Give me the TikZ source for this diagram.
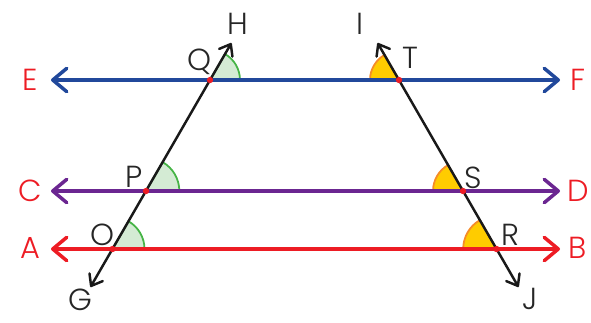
\documentclass[tikz,border=0pt]{standalone}
\usepackage{fontspec}
\setmainfont{Poppins}[UprightFont=* Light]
\usetikzlibrary{arrows.meta}
\definecolor{lineblue}{RGB}{33,72,155}
\definecolor{linepurple}{RGB}{107,38,145}
\definecolor{linered}{RGB}{237,28,36}
\definecolor{secgreen}{RGB}{70,180,70}
\definecolor{secgreenfill}{RGB}{212,235,212}
\definecolor{secorange}{RGB}{245,140,40}
\definecolor{secyellow}{RGB}{255,204,0}

\begin{document}
\begin{tikzpicture}[
    x=0.03cm, y=0.03cm, line cap=round,
    par/.style={line width=3pt,
      {Straight Barb[length=4.2mm,width=7mm,round]}-{Straight Barb[length=4.2mm,width=7mm,round]}},
    trans/.style={line width=2.1pt, black!90,
      {Straight Barb[length=3mm,width=4.6mm,round]}-{Straight Barb[length=3mm,width=4.6mm,round]}},
    gsec/.style={fill=secgreenfill, draw=secgreen, line width=1.5pt},
    ysec/.style={fill=secyellow, draw=secorange, line width=1.5pt},
    dot/.style={circle, fill=linered, inner sep=0pt, minimum size=1.9mm},
    endlbl/.style={font=\fontsize{26}{31}\selectfont, text=linered, inner sep=0pt},
    ptlbl/.style={font=\fontsize{26}{31}\selectfont, text=black!85, inner sep=0pt},
]
\useasboundingbox (0,0) rectangle (591,322);
% end points of the three parallels
\coordinate (E) at (51,242);  \coordinate (F) at (560,242);
\coordinate (C) at (51,131);  \coordinate (D) at (560,131);
\coordinate (A) at (51,73);   \coordinate (B) at (560,73);
% the two transversals
\coordinate (G) at (90.5,35);   \coordinate (H) at (231.4,279);
\coordinate (J) at (518.5,35);  \coordinate (I) at (377.6,279);
\coordinate (Q) at (210,242);   \coordinate (T) at (399,242);
\coordinate (P) at (146,131);   \coordinate (S) at (463,131);
\coordinate (O) at (112.5,73);  \coordinate (R) at (496.5,73);
% marked angles
\filldraw[gsec] (Q) -- ++(0:0.9cm) arc[start angle=0, end angle=60, radius=0.9cm] -- cycle;
\filldraw[gsec] (P) -- ++(0:1cm) arc[start angle=0, end angle=60, radius=1cm] -- cycle;
\filldraw[gsec] (O) -- ++(0:0.96cm) arc[start angle=0, end angle=60, radius=0.96cm] -- cycle;
\filldraw[ysec] (T) -- ++(120:0.87cm) arc[start angle=120, end angle=180, radius=0.87cm] -- cycle;
\filldraw[ysec] (S) -- ++(120:0.9cm) arc[start angle=120, end angle=180, radius=0.9cm] -- cycle;
\filldraw[ysec] (R) -- ++(120:1cm) arc[start angle=120, end angle=180, radius=1cm] -- cycle;
% lines
\draw[par, lineblue] (E) -- (F);
\draw[par, linepurple] (C) -- (D);
\draw[par, linered] (A) -- (B);
\draw[trans] (G) -- (H);
\draw[trans] (J) -- (I);
\foreach \p in {Q,P,O,T,S,R} \node[dot] at (\p) {};
% labels
\node[endlbl] (lblE) at (30,242) {E};
\node[endlbl] (lblF) at (578,242) {F};
\node[endlbl] (lblC) at (30,131) {C};
\node[endlbl] (lblD) at (578,131) {D};
\node[endlbl] (lblA) at (30,74) {A};
\node[endlbl] (lblB) at (578,74) {B};
\node[ptlbl] (lblH) at (238,298) {H};
\node[ptlbl] (lblI) at (360,298) {I};
\node[ptlbl] (lblQ) at (200,260) {Q};
\node[ptlbl] (lblT) at (410,264) {T};
\node[ptlbl] (lblP) at (134,145) {P};
\node[ptlbl] (lblS) at (473,144) {S};
\node[ptlbl] (lblO) at (102,87) {O};
\node[ptlbl] (lblR) at (510,87) {R};
\node[ptlbl] (lblG) at (80,22) {G};
\node[ptlbl] (lblJ) at (530,23) {J};
\end{tikzpicture}
\end{document}
